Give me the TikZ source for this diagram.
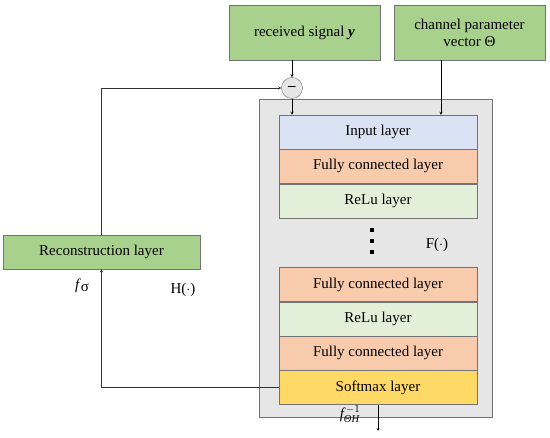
\documentclass[tikz,border=0pt]{standalone}
\usepackage{amsmath}
\usepackage{fontspec}
\setmainfont{Liberation Serif}
\usetikzlibrary{positioning, arrows}

\definecolor{boxgreen}{HTML}{A9D18E}
\definecolor{inblue}{HTML}{DAE3F3}
\definecolor{fcorange}{HTML}{F8CBAD}
\definecolor{relugreen}{HTML}{E2F0D9}
\definecolor{softyellow}{HTML}{FFD966}
\definecolor{netgray}{HTML}{E7E6E6}

\tikzset{
  greenbox/.style={draw=gray!90!black, fill=boxgreen, minimum width=151pt, minimum height=55pt, align=center, inner sep=2pt},
  layer/.style={draw=gray!90!black, minimum width=198pt, minimum height=34pt, inner sep=0pt},
  sq/.style={fill=black, minimum size=3.2pt, inner sep=0pt}
}

\begin{document}
\begin{tikzpicture}[x=1pt,y=-1pt,->,>=stealth,thin,font=\fontsize{15}{17}\selectfont]
  \useasboundingbox (0,0) rectangle (550,438);

  \node[greenbox] (sig) at (304.5,32.5) {received signal \textbf{\textit{y}}};
  \node[greenbox] (chan) at (469.5,32.5) {channel parameter\\vector Θ};
  \node[circle, draw=gray!90!black, fill=netgray, minimum size=21pt, inner sep=0pt] (minus) at (292,88) {\textbf{--}};

  \node[draw=gray!90!black, fill=netgray, minimum width=233pt, minimum height=318pt] (net) at (375.5,258) {};

  \node[layer, fill=inblue] (input) at (378,132) {Input layer};
  \node[layer, fill=fcorange, below=0pt of input] (fc1) {Fully connected layer};
  \node[layer, fill=relugreen, below=0pt of fc1] (relu1) {ReLu layer};

  \node[sq] (d1) at (372,230) {};
  \node[sq] (d2) at (372,241) {};
  \node[sq] (d3) at (372,252) {};
  \node (F) at (437,245) {F($\cdot$)};

  \node[layer, fill=fcorange] (fc2) at (378,284.5) {Fully connected layer};
  \node[layer, fill=relugreen, below=0pt of fc2] (relu2) {ReLu layer};
  \node[layer, fill=fcorange, below=0pt of relu2] (fc3) {Fully connected layer};
  \node[layer, fill=softyellow, below=0pt of fc3] (soft) {Softmax layer};

  \node[greenbox, minimum width=197pt, minimum height=34pt] (recon) at (101.5,252) {Reconstruction layer};
  \node (fsig) at (82,286) {\textit{f}\raisebox{-0.2ex}{σ}};
  \node (H) at (183,290) {H($\cdot$)};
  \node (finv) at (350,414) {$\textit{f}^{\,-1}_{\text{\itshape ΘH}}$};
  \coordinate (out) at (378,431);

  \draw (sig.south -| minus) -- (minus);
  \draw (minus) -- (minus |- input.north);
  \draw ([xshift=-28.5pt]chan.south) -- ([xshift=-28.5pt]chan.south |- input.north);
  \draw[gray!40!black] (soft.west) -| (recon.south);
  \draw[gray!40!black] (recon.north) |- (minus.west);
  \draw (soft.south) -- (out);
\end{tikzpicture}
\end{document}
